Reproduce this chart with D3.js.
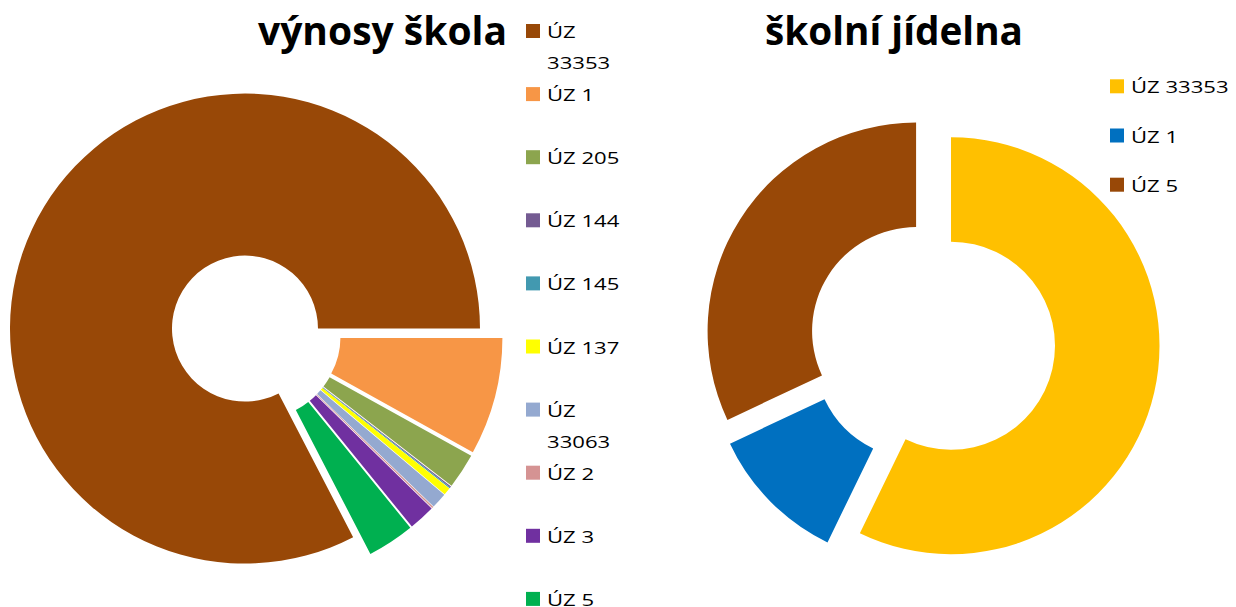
<!DOCTYPE html>
<html>
<head>
<meta charset="utf-8">
<script src="https://cdn.jsdelivr.net/npm/d3@7"></script>
<style>
  body { margin: 0; background: #ffffff; }
  text { font-family: "Open Sans", "Noto Sans", sans-serif; fill: #000000; }
</style>
</head>
<body>
<script>
// výnosy škola (shares in %)
var skolaLabels = ["ÚZ 33353", "ÚZ 1", "ÚZ 205", "ÚZ 144", "ÚZ 145", "ÚZ 137", "ÚZ 33063", "ÚZ 2", "ÚZ 3", "ÚZ 5"];
var skolaValues = [82.61, 8.07, 2.42, 0.08, 0.08, 0.50, 1.08, 0.11, 1.81, 3.24];
var skolaColors = ["#984807", "#F79646", "#8CA54E", "#745B92", "#4299B0", "#FFFF00", "#94A9D0", "#D59393", "#7030A0", "#00B050"];

// školní jídelna (shares in %)
var jidelnaLabels = ["ÚZ 33353", "ÚZ 1", "ÚZ 5"];
var jidelnaValues = [57.2, 10.8, 32.0];
var jidelnaColors = ["#FFC000", "#0070C0", "#984807"];

var width = 1236, height = 607;
var textStretch = 1.3; // legend text is drawn wide

var svg = d3.select("body")
    .append("svg")
    .attr("width", width)
    .attr("height", height);

//draw one exploded doughnut
function drawDonut(cx, cy, outerR, innerR, explode, startDeg, labels, values, colors) {
    var start = startDeg * Math.PI / 180;
    var pie = d3.pie()
        .sort(null)
        .startAngle(start)
        .endAngle(start + 2 * Math.PI);

    var arc = d3.arc()
        .innerRadius(innerR)
        .outerRadius(outerR);

    var g = svg.append("g")
        .attr("transform", "translate(" + cx + "," + cy + ")");

    g.selectAll("path")
        .data(pie(values))
        .enter()
        .append("path")
        .attr("d", arc)
        .attr("transform", function(d) {
            var mid = (d.startAngle + d.endAngle) / 2;
            return "translate(" + (explode * Math.sin(mid)) + "," + (-explode * Math.cos(mid)) + ")";
        })
        .style("fill", function(d, i) { return colors[i]; });
}

//legend with squares, long labels wrap onto a second line
function drawLegend(x, y0, step, labels, colors, maxWidth) {
    var g = svg.append("g");
    labels.forEach(function(label, i) {
        var cy = y0 + i * step;
        g.append("rect")
            .attr("x", x)
            .attr("y", cy - 7)
            .attr("width", 14)
            .attr("height", 14)
            .style("fill", colors[i]);

        var t = g.append("text")
            .attr("transform", "translate(" + (x + 21) + "," + (cy + 7) + ") scale(" + textStretch + ",1)")
            .style("font-size", "17px")
            .text(label);

        if (maxWidth && t.node().getComputedTextLength() * textStretch > maxWidth) {
            var words = label.split(" ");
            t.text(null);
            words.forEach(function(w, k) {
                t.append("tspan")
                    .attr("x", 0)
                    .attr("dy", k === 0 ? 0 : 31)
                    .text(w);
            });
        }
    });
}

//chart titles
function drawTitle(x, y, w, txt) {
    svg.append("text")
        .attr("x", x)
        .attr("y", y)
        .attr("textLength", w)
        .attr("lengthAdjust", "spacingAndGlyphs")
        .style("font-size", "40px")
        .style("font-weight", "bold")
        .text(txt);
}

drawDonut(255.5, 335, 235, 73, 12.3, 152.6, skolaLabels, skolaValues, skolaColors);
drawDonut(932.3, 341.4, 208.5, 104, 19.2, 0, jidelnaLabels, jidelnaValues, jidelnaColors);

drawTitle(258, 45, 249, "výnosy škola");
drawTitle(765, 45, 258, "školní jídelna");

drawLegend(526, 31, 63.1, skolaLabels, skolaColors, 85);
drawLegend(1110, 86.3, 49.2, jidelnaLabels, jidelnaColors, null);
</script>
</body>
</html>
